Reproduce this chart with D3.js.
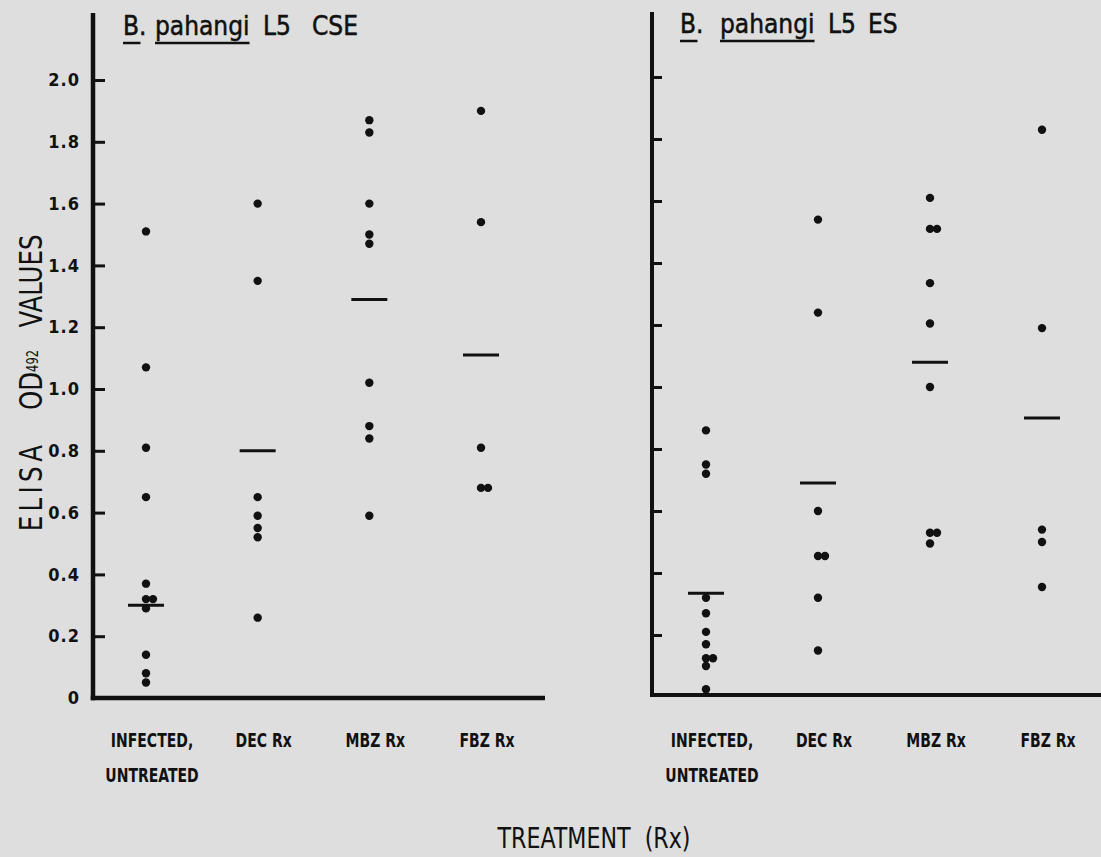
<!DOCTYPE html>
<html>
<head>
<meta charset="utf-8">
<script src="https://cdn.jsdelivr.net/npm/d3@7/dist/d3.min.js"></script>
<style>
  body { margin: 0; background: #dedede; }
  svg { display: block; background: #dedede; }
  text { font-family: "DejaVu Sans Condensed", "DejaVu Sans", sans-serif; fill: #111; }
</style>
</head>
<body>
<svg id="chart"></svg>
<script>
// categories and tick labels
const categories = ["INFECTED, UNTREATED", "DEC Rx", "MBZ Rx", "FBZ Rx"];
const categoryLines = [["INFECTED,", "UNTREATED"], ["DEC Rx"], ["MBZ Rx"], ["FBZ Rx"]];
const yTicks = [0, 0.2, 0.4, 0.6, 0.8, 1.0, 1.2, 1.4, 1.6, 1.8, 2.0];

// B. pahangi L5 CSE (ELISA OD492 per animal)
const cseInfected = [1.51, 1.07, 0.81, 0.65, 0.37, 0.32, 0.32, 0.29, 0.14, 0.08, 0.05];
const cseDEC = [1.60, 1.35, 0.65, 0.59, 0.55, 0.52, 0.26];
const cseMBZ = [1.87, 1.83, 1.60, 1.50, 1.47, 1.02, 0.88, 0.84, 0.59];
const cseFBZ = [1.90, 1.54, 0.81, 0.68, 0.68];
const cseMeans = [0.30, 0.80, 1.29, 1.11];

// B. pahangi L5 ES
const esInfected = [0.86, 0.75, 0.72, 0.32, 0.27, 0.21, 0.17, 0.125, 0.125, 0.10, 0.025];
const esDEC = [1.54, 1.24, 0.60, 0.455, 0.455, 0.32, 0.15];
const esMBZ = [1.61, 1.51, 1.51, 1.335, 1.205, 1.00, 0.53, 0.53, 0.495];
const esFBZ = [1.83, 1.19, 0.54, 0.50, 0.355];
const esMeans = [0.335, 0.69, 1.08, 0.90];

const cseTitle = ["B.", "pahangi", "L5", "CSE"];
const esTitle = ["B.", "pahangi", "L5", "ES"];
const underlinedWords = ["B.", "pahangi"];
const xTitle = "TREATMENT  (Rx)";

const width = 1101, height = 857;

const svg = d3.select("#chart")
    .attr("width", width)
    .attr("height", height);

function drawPanel(cfg) {
  const g = svg.append("g");

  const x = d3.scalePoint().domain(categories).range(cfg.xRange);
  const y = d3.scaleLinear().domain([0, 2]).range(cfg.yRange);

  // axis lines
  g.append("line")
      .attr("x1", cfg.axisX).attr("x2", cfg.axisX)
      .attr("y1", cfg.top).attr("y2", cfg.bottom + cfg.lineW / 2)
      .attr("stroke", "#111").attr("stroke-width", cfg.lineW);
  g.append("line")
      .attr("x1", cfg.axisX - cfg.lineW / 2).attr("x2", cfg.right)
      .attr("y1", cfg.bottom).attr("y2", cfg.bottom)
      .attr("stroke", "#111").attr("stroke-width", cfg.lineW);

  // y ticks
  const fmt = d => d === 0 ? "0" : d3.format(".1f")(d);
  const yAxis = d3.axisLeft(y)
      .tickValues(cfg.labels ? yTicks : yTicks.filter(d => d > 0))
      .tickSize(-cfg.tickLen)
      .tickPadding(13)
      .tickFormat(cfg.labels ? fmt : "");
  const yAxisG = g.append("g")
      .attr("transform", `translate(${cfg.axisX},0)`)
      .call(yAxis);
  yAxisG.select(".domain").remove();
  yAxisG.selectAll(".tick line")
      .attr("stroke", "#111")
      .attr("stroke-width", 3);
  yAxisG.selectAll(".tick text")
      .attr("fill", "#111")
      .style("font-family", '"DejaVu Sans Condensed", "DejaVu Sans", sans-serif')
      .style("font-size", "18px")
      .style("font-weight", "bold")
      .style("letter-spacing", "1px");

  // points, side-by-side for repeated values
  cfg.groups.forEach((vals, i) => {
    const seen = {};
    const pts = vals.map(v => {
      const k = seen[v] || 0;
      seen[v] = k + 1;
      return {v: v, k: k};
    });
    g.selectAll(null)
        .data(pts)
        .join("circle")
        .attr("cx", d => x(categories[i]) + d.k * 7)
        .attr("cy", d => y(d.v))
        .attr("r", 4.2)
        .attr("fill", "#111");
  });

  // mean bars
  g.selectAll(".mean")
      .data(cfg.means)
      .join("line")
      .attr("class", "mean")
      .attr("x1", (d, i) => x(categories[i]) - 18)
      .attr("x2", (d, i) => x(categories[i]) + 18)
      .attr("y1", d => y(d))
      .attr("y2", d => y(d))
      .attr("stroke", "#111")
      .attr("stroke-width", 3);

  // category labels
  categoryLines.forEach((lines, i) => {
    lines.forEach((t, j) => {
      g.append("text")
          .attr("transform", `translate(${x(categories[i]) + 6},${747 + j * 35}) scale(0.82,1)`)
          .attr("text-anchor", "middle")
          .style("font-size", "19px")
          .style("font-weight", "bold")
          .text(t);
    });
  });

  // panel title
  cfg.title.forEach((w, i) => {
    const t = g.append("text")
        .attr("x", cfg.titleX[i])
        .attr("y", cfg.titleY)
        .style("font-size", "26px")
        .attr("stroke", "#111")
        .attr("stroke-width", 0.5)
        .text(w);
    if (underlinedWords.includes(w)) {
      const bb = t.node().getBBox();
      g.append("line")
          .attr("x1", bb.x).attr("x2", bb.x + bb.width - (w === "B." ? 6 : 0))
          .attr("y1", cfg.titleY + 8).attr("y2", cfg.titleY + 8)
          .attr("stroke", "#111").attr("stroke-width", 2.5);
    }
  });
}

drawPanel({
  axisX: 93, top: 13, bottom: 698, right: 545, lineW: 4.5, tickLen: 12,
  yRange: [698, 80], xRange: [146, 481], labels: true,
  groups: [cseInfected, cseDEC, cseMBZ, cseFBZ], means: cseMeans,
  title: cseTitle, titleX: [123, 155, 263, 312], titleY: 35
});

drawPanel({
  axisX: 652, top: 12, bottom: 695, right: 1101, lineW: 4, tickLen: 10,
  yRange: [697, 77], xRange: [706, 1042], labels: false,
  groups: [esInfected, esDEC, esMBZ, esFBZ], means: esMeans,
  title: esTitle, titleX: [680, 720, 828, 868], titleY: 33
});

// y axis title
const yTitleG = svg.append("g");
yTitleG.append("text")
    .attr("transform", "translate(42,281) rotate(-90) scale(0.85,1)")
    .attr("text-anchor", "middle")
    .style("font-size", "32px")
    .text("VALUES");
const od = yTitleG.append("text")
    .attr("transform", "translate(42,380) rotate(-90) scale(0.85,1)")
    .attr("text-anchor", "middle")
    .style("font-size", "32px");
od.append("tspan").text("OD");
od.append("tspan").attr("dy", -4).style("font-size", "15px").text("492");
yTitleG.append("text")
    .attr("transform", "translate(42,486) rotate(-90) scale(0.85,1)")
    .attr("text-anchor", "middle")
    .style("font-size", "32px")
    .style("letter-spacing", "5px")
    .text("ELISA");

// x axis title
svg.append("text")
    .attr("transform", "translate(594,848) scale(0.85,1)")
    .attr("text-anchor", "middle")
    .attr("xml:space", "preserve")
    .style("white-space", "pre")
    .style("font-size", "29px")
    .text(xTitle);
</script>
</body>
</html>
